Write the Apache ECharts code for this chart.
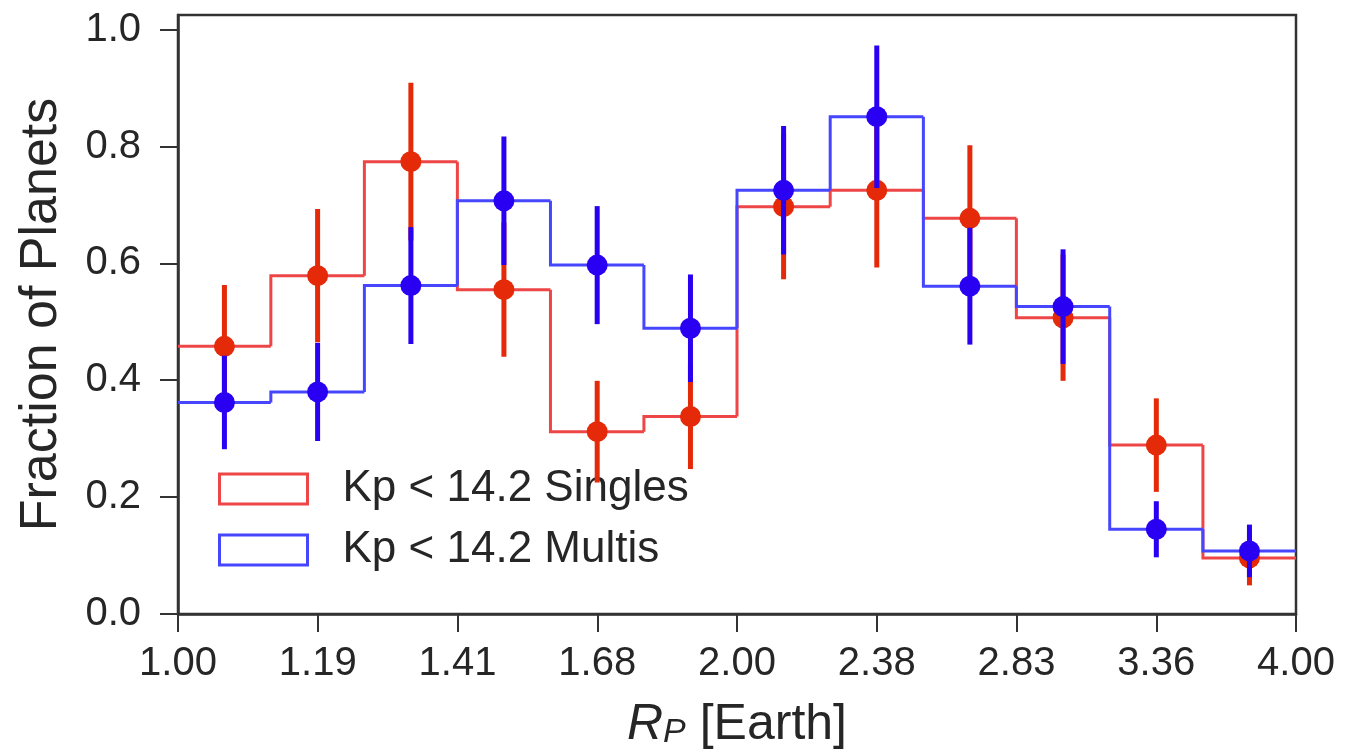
<!DOCTYPE html>
<html><head><meta charset="utf-8">
<script src="https://cdn.jsdelivr.net/npm/echarts@6/dist/echarts.min.js"></script>
<style>html,body{margin:0;padding:0;background:#fff}#c{width:1346px;height:755px}</style>
</head><body><div id="c"></div>
<script>
// Bin edges in planet radius (Earth radii), log-spaced
const binEdges = [1.000, 1.122, 1.260, 1.414, 1.587, 1.782, 2.000, 2.245, 2.520, 2.828, 3.175, 3.564, 4.000];
// Fraction of planets per bin
const singles    = [0.458, 0.579, 0.774, 0.555, 0.312, 0.338, 0.697, 0.725, 0.677, 0.507, 0.289, 0.096];
const singlesErr = [0.105, 0.114, 0.135, 0.115, 0.087, 0.090, 0.124, 0.132, 0.125, 0.108, 0.080, 0.047];
const multis     = [0.362, 0.380, 0.562, 0.707, 0.597, 0.489, 0.725, 0.851, 0.561, 0.526, 0.145, 0.108];
const multisErr  = [0.080, 0.084, 0.100, 0.110, 0.101, 0.092, 0.110, 0.122, 0.100, 0.098, 0.048, 0.045];
const xTickLabels = ['1.00', '1.19', '1.41', '1.68', '2.00', '2.38', '2.83', '3.36', '4.00'];
const yTicks = [0.0, 0.2, 0.4, 0.6, 0.8, 1.0];
const seriesNames = ['Kp < 14.2 Singles', 'Kp < 14.2 Multis'];

const RED_LINE = '#ee4646', BLUE_LINE = '#4646ff';
const RED_PT = '#e42a08', BLUE_PT = '#2a00f2';
const TXT = '#262626', AX = '#333333';
const FONT = 'Liberation Sans, Arial, sans-serif';

const lg = v => Math.log2(v);
function stepData(vals) {
  return vals.map((v, i) => [lg(binEdges[i]), lg(binEdges[i + 1]), v, i === 0 ? v : vals[i - 1]]);
}
function pointData(vals, errs) {
  return vals.map((v, i) => [(lg(binEdges[i]) + lg(binEdges[i + 1])) / 2, v, v - errs[i], v + errs[i]]);
}
function stepRender(color) {
  return function (params, api) {
    const x0 = api.value(0), x1 = api.value(1), y = api.value(2), yp = api.value(3);
    const a = api.coord([x0, yp]), b = api.coord([x0, y]), c = api.coord([x1, y]);
    return { type: 'polyline', shape: { points: [a, b, c] },
      style: { stroke: color, lineWidth: 3, fill: null }, z2: 1 };
  };
}
function errRender(color) {
  return function (params, api) {
    const x = api.value(0);
    const lo = api.coord([x, api.value(2)]), hi = api.coord([x, api.value(3)]);
    return { type: 'line', shape: { x1: lo[0], y1: lo[1], x2: hi[0], y2: hi[1] },
      style: { stroke: color, lineWidth: 5 } };
  };
}

const chart = echarts.init(document.getElementById('c'));
const redPts = pointData(singles, singlesErr), bluePts = pointData(multis, multisErr);
chart.setOption({
  animation: false,
  backgroundColor: '#fff',
  textStyle: { fontFamily: FONT, color: TXT },
  grid: { left: 178, right: 50, top: 15, bottom: 138, show: true, borderColor: AX, borderWidth: 2.5, backgroundColor: 'transparent' },
  legend: {
    orient: 'vertical', left: 218, top: 467, padding: 0, itemWidth: 88, itemHeight: 30, itemGap: 17,
    textStyle: { fontFamily: FONT, fontSize: 44, color: TXT, padding: [0, 0, 0, 30] },
    data: [
      { name: seriesNames[0], icon: 'rect', itemStyle: { color: '#ffffff', borderColor: RED_LINE, borderWidth: 3 } },
      { name: seriesNames[1], icon: 'rect', itemStyle: { color: '#ffffff', borderColor: BLUE_LINE, borderWidth: 3 } }
    ]
  },
  xAxis: {
    type: 'value', min: 0, max: 2, interval: 0.25,
    name: '{r|R}{p|P}{t| [Earth]}', nameLocation: 'middle', nameGap: 86,
    nameTextStyle: { rich: {
      r: { fontFamily: FONT, fontStyle: 'italic', fontSize: 50, color: TXT },
      p: { fontFamily: FONT, fontStyle: 'italic', fontSize: 34, color: TXT, verticalAlign: 'bottom', lineHeight: 6 },
      t: { fontFamily: FONT, fontSize: 50, color: TXT }
    } },
    axisLine: { show: true, lineStyle: { color: AX, width: 2.5 } },
    axisTick: { show: true, length: 18, lineStyle: { color: AX, width: 2 } },
    axisLabel: { fontFamily: FONT, fontSize: 40, color: TXT, margin: 30,
      formatter: v => xTickLabels[Math.round(v / 0.25)] },
    splitLine: { show: false }
  },
  yAxis: {
    type: 'value', min: 0, max: 1.025,
    name: 'Fraction of Planets', nameLocation: 'middle', nameGap: 110,
    nameTextStyle: { fontFamily: FONT, fontSize: 52, color: TXT },
    axisLine: { show: true, lineStyle: { color: AX, width: 2.5 } },
    axisTick: { show: true, length: 18, lineStyle: { color: AX, width: 2 }, customValues: yTicks },
    axisLabel: { fontFamily: FONT, fontSize: 40, color: TXT, margin: 37, customValues: yTicks,
      formatter: v => v.toFixed(1) },
    splitLine: { show: false }
  },
  series: [
    { name: seriesNames[0], type: 'custom', renderItem: stepRender(RED_LINE), itemStyle: { color: RED_LINE },
      encode: { x: [0, 1], y: [2, 3] }, data: stepData(singles), z: 2 },
    { name: seriesNames[1], type: 'custom', renderItem: stepRender(BLUE_LINE), itemStyle: { color: BLUE_LINE },
      encode: { x: [0, 1], y: [2, 3] }, data: stepData(multis), z: 3 },
    { name: 'singles-err', type: 'custom', renderItem: errRender(RED_PT),
      encode: { x: 0, y: [2, 3] }, data: redPts, z: 4 },
    { name: 'singles-pt', type: 'scatter', symbol: 'circle', symbolSize: 21,
      itemStyle: { color: RED_PT, opacity: 1 }, data: redPts.map(d => [d[0], d[1]]), z: 5 },
    { name: 'multis-err', type: 'custom', renderItem: errRender(BLUE_PT),
      encode: { x: 0, y: [2, 3] }, data: bluePts, z: 6 },
    { name: 'multis-pt', type: 'scatter', symbol: 'circle', symbolSize: 21,
      itemStyle: { color: BLUE_PT, opacity: 1 }, data: bluePts.map(d => [d[0], d[1]]), z: 7 }
  ]
});
</script></body></html>
